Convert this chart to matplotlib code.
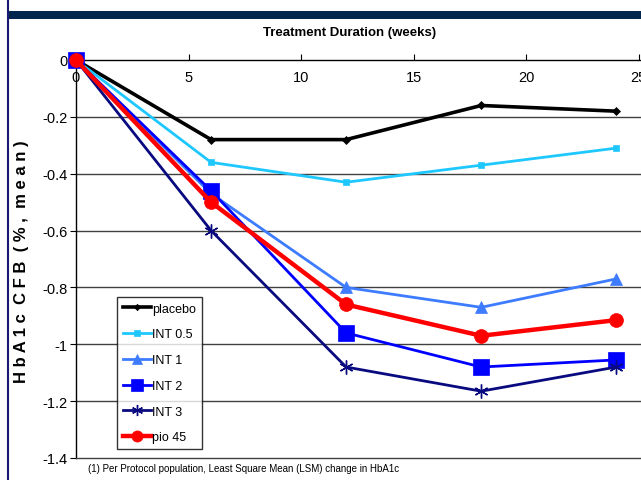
import matplotlib
matplotlib.use("Agg")
import matplotlib.pyplot as plt
from matplotlib.lines import Line2D

plt.rcParams['font.family'] = ['Liberation Sans', 'DejaVu Sans']

weeks = [0, 6, 12, 18, 24]
series_names = ["placebo", "INT 0.5", "INT 1", "INT 2", "INT 3", "pio 45"]
placebo = [0, -0.28, -0.28, -0.16, -0.18]
int_05 = [0, -0.36, -0.43, -0.37, -0.31]
int_1 = [0, -0.47, -0.80, -0.87, -0.77]
int_2 = [0, -0.46, -0.96, -1.08, -1.055]
int_3 = [0, -0.60, -1.08, -1.165, -1.08]
pio_45 = [0, -0.50, -0.86, -0.97, -0.915]
x_ticks = [0, 5, 10, 15, 20, 25]
x_ticklabels = ["0", "5", "10", "15", "20", "25"]
y_ticks = [0, -0.2, -0.4, -0.6, -0.8, -1.0, -1.2, -1.4]
y_ticklabels = ["0", "-0.2", "-0.4", "-0.6", "-0.8", "-1", "-1.2", "-1.4"]

styles = [
    dict(color="black", marker="D", markersize=4, lw=2.6),
    dict(color="#1EC8FF", marker="s", markersize=5, lw=2.0),
    dict(color="#3D7BFF", marker="^", markersize=9, lw=2.0),
    dict(color="#0000FF", marker="s", markersize=11, lw=2.0),
    dict(color="#0A0A80", marker=(6, 2, 0), markersize=10, lw=2.0, mew=1.0),
    dict(color="#FF0000", marker="o", markersize=10, lw=3.2),
]
values = [placebo, int_05, int_1, int_2, int_3, pio_45]

fig = plt.figure(figsize=(6.41, 4.81), dpi=100)

# slide decoration: navy band and left rule
fig.add_artist(plt.Rectangle((7 / 641, 1 - 20 / 481), 1, 8 / 481,
                             transform=fig.transFigure, color="#00264D", lw=0))
fig.add_artist(Line2D([7.5 / 641, 7.5 / 641], [0, 1], transform=fig.transFigure,
                      color="#1A1A6E", lw=1.5))

ax = fig.add_axes([76 / 641, 1 - 459 / 481, 1 - 76 / 641, (459 - 61) / 481])
ax.set_xlim(0, 25.1)
ax.set_ylim(-1.4, 0)

for yv in y_ticks[1:-1]:
    ax.axhline(yv, color="#404040", lw=1.0, zorder=0)

handles = []
for name, vals, st in zip(series_names, values, styles):
    (h,) = ax.plot(weeks, vals, label=name, color=st["color"], lw=st["lw"],
                   marker=st["marker"], markersize=st["markersize"],
                   markeredgewidth=st.get("mew", 0.5), clip_on=False, zorder=3)
    handles.append(h)

ax.xaxis.tick_top()
ax.set_xticks(x_ticks)
ax.set_xticklabels(x_ticklabels, fontsize=10.5)
ax.tick_params(axis="x", direction="out", length=4, pad=-21.5, width=0.8)
ax.set_yticks(y_ticks)
ax.set_yticklabels(y_ticklabels, fontsize=10.5)
ax.tick_params(axis="y", direction="out", length=4, pad=2, width=0.8)

for side in ["top", "left", "bottom"]:
    ax.spines[side].set_color("black")
    ax.spines[side].set_linewidth(1.0)
ax.spines["right"].set_visible(False)
ax.spines["bottom"].set_color("#404040")

fig.text(350 / 641, 1 - 33 / 481, "Treatment Duration (weeks)", ha="center",
         va="center", fontsize=9.5, fontweight="bold")
fig.text(22 / 641, 1 - 262 / 481, "H b A 1 c  C F B  ( % ,  m e a n )",
         rotation=90, ha="center", va="center", fontsize=12, fontweight="bold")
fig.text(88 / 641, 1 - 469 / 481,
         "(1) Per Protocol population, Least Square Mean (LSM) change in HbA1c",
         ha="left", va="center", fontsize=7)

leg = ax.legend(handles=handles, loc="upper left",
                bbox_to_anchor=((117 - 76) / 565, 1 - (298 - 61) / 398),
                frameon=True, fancybox=False, fontsize=9,
                handlelength=2.3, handletextpad=0.05, borderpad=0.45,
                labelspacing=1.1, borderaxespad=0, markerscale=0.8)
leg.get_frame().set_edgecolor("black")
leg.get_frame().set_linewidth(1.0)

fig.savefig("out.png", dpi=100)
